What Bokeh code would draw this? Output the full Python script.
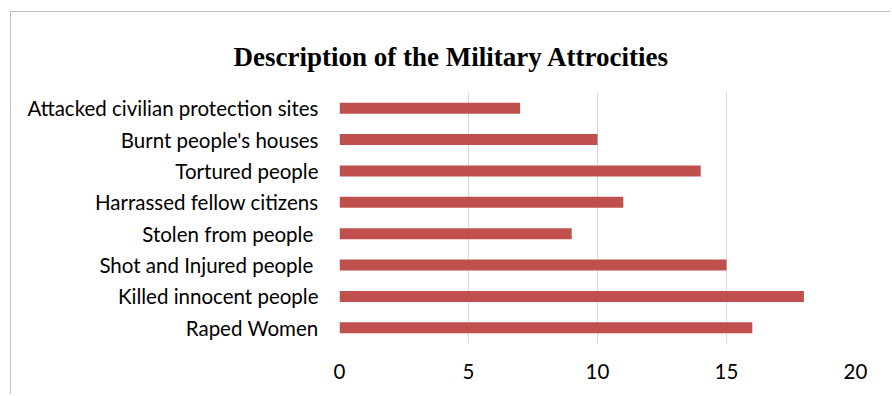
from bokeh.plotting import figure
from bokeh.models import InlineStyleSheet, FixedTicker, Range1d
from bokeh.embed import file_html
from bokeh.resources import INLINE

categories = [
    "Attacked civilian protection sites",
    "Burnt people's houses",
    "Tortured people",
    "Harrassed fellow citizens",
    "Stolen from people ",
    "Shot and Injured people ",
    "Killed innocent people",
    "Raped Women",
]
values = [7, 10, 14, 11, 9, 15, 18, 16]
x_ticks = [0, 5, 10, 15, 20]
title_text = "Description of the Military Attrocities"

factors = list(reversed(categories))

p = figure(
    width=880, height=383,
    y_range=factors,
    x_range=Range1d(0, 20),
    output_backend="svg",
    toolbar_location=None,
    min_border_left=328, min_border_right=36,
    min_border_top=80, min_border_bottom=52,
)
p.margin = (11, 0, 0, 10)
p.stylesheets = [InlineStyleSheet(css=":host { border-left: 1px solid #BFBFBF; border-top: 1px solid #BFBFBF; }")]

p.hbar(y=categories, right=values, left=0, height=0.35, color="#C0504D", line_color=None)

p.title.text = title_text
p.title.text_font = "Liberation Serif"
p.title.text_font_style = "bold"
p.title.text_font_size = "27px"
p.title.text_color = "#000000"
p.title.align = "left"
p.title.offset = -106
p.title.standoff = 42

p.outline_line_color = None
p.ygrid.grid_line_color = None
p.xgrid.grid_line_color = "#D9D9D9"
p.xgrid.grid_line_width = 1
p.xaxis.ticker = FixedTicker(ticks=x_ticks)

for ax in (p.xaxis[0], p.yaxis[0]):
    ax.axis_line_color = None
    ax.major_tick_line_color = None
    ax.minor_tick_line_color = None
    ax.major_label_text_font = "Lato"
    ax.major_label_text_font_size = "20.5px"
    ax.major_label_text_color = "#000000"

p.yaxis.major_label_standoff = 15
p.xaxis.major_label_standoff = 14
p.y_range.range_padding = 0

open("out.html", "w").write(file_html(p, INLINE))
